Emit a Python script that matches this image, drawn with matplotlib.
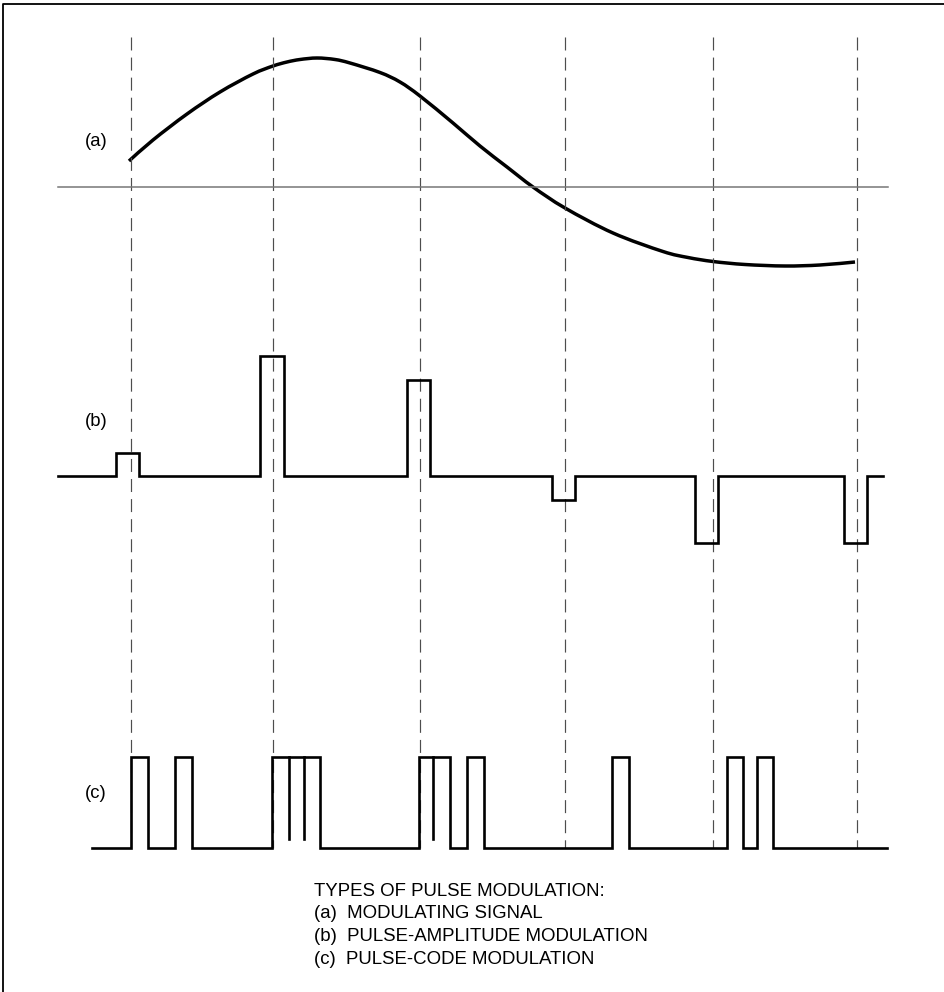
import matplotlib
matplotlib.use("Agg")
from matplotlib import pyplot as plt
from matplotlib.path import Path
from matplotlib.patches import PathPatch

plt.rcParams['font.family'] = ['Liberation Sans', 'DejaVu Sans']

# everything is in picture units (x to the right, y downwards)
sample_x = [131, 273, 420, 565, 713, 857]

# (a) modulating signal
curve_x = [129, 153, 187, 220, 253, 273, 287, 300, 317, 335, 350, 380, 400,
           420, 453, 480, 507, 533, 565, 613, 663, 688, 713, 745, 785, 820, 855]
curve_y = [161, 140, 114, 92, 74, 66, 62, 59.5, 58, 59.5, 63, 72.5, 82,
           96, 123, 146, 167, 187, 208, 233, 251.5, 257.5, 261.5, 264.5, 266,
           265, 262]
zero_level = 187

# (b) pulse-amplitude modulation: pulse edges and levels
pam_base = 476
pam_start = [116, 260, 407, 552, 695, 844]
pam_end = [139, 284, 430, 575, 718, 867]
pam_level = [453, 356, 380, 500, 543, 543]
pam_range = (58, 883)

# (c) pulse-code modulation: pulse edges and the dividers between joined bits
pcm_base = 848
pcm_top = 757
pcm_start = [131, 175, 272, 419, 467, 612, 727, 757]
pcm_end = [148, 192, 320, 450, 484, 629, 743, 773]
pcm_dividers = [289, 304, 433]
pcm_divider_end = 839
pcm_range = (92, 887)

legend_lines = ["TYPES OF PULSE MODULATION:",
                "(a)  MODULATING SIGNAL",
                "(b)  PULSE-AMPLITUDE MODULATION",
                "(c)  PULSE-CODE MODULATION"]


def pulse_train(starts, ends, levels, base, xrange_):
    xs, ys = [xrange_[0]], [base]
    for s, e, lv in zip(starts, ends, levels):
        xs += [s, s, e, e]
        ys += [base, lv, lv, base]
    xs.append(xrange_[1])
    ys.append(base)
    return xs, ys


def smooth_path(xs, ys):
    # catmull-rom through the read points, drawn as cubic beziers
    pts = list(zip(xs, ys))
    verts, codes = [pts[0]], [Path.MOVETO]
    for i in range(len(pts) - 1):
        p0 = pts[max(i - 1, 0)]
        p1, p2 = pts[i], pts[i + 1]
        p3 = pts[min(i + 2, len(pts) - 1)]
        c1 = (p1[0] + (p2[0] - p0[0]) / 6, p1[1] + (p2[1] - p0[1]) / 6)
        c2 = (p2[0] - (p3[0] - p1[0]) / 6, p2[1] - (p3[1] - p1[1]) / 6)
        verts += [c1, c2, p2]
        codes += [Path.CURVE4] * 3
    return Path(verts, codes)


fig = plt.figure(figsize=(9.45, 9.92), dpi=100)
ax = fig.add_axes([0, 0, 1, 1])
ax.set_xlim(0, 945)
ax.set_ylim(992, 0)
ax.axis("off")

# frame (only top and left survive in the reference)
ax.plot([3, 3, 945], [992, 4, 4], color="black", lw=1.3)

# dashed sampling instants
for x in sample_x:
    ax.plot([x, x], [37, pcm_base], color="#4d4d4d", lw=0.85,
            dashes=(11, 6))

# (a)
ax.plot([58, 888], [zero_level, zero_level], color="#777777", lw=1.1)
ax.add_patch(PathPatch(smooth_path(curve_x, curve_y), facecolor="none",
                       edgecolor="black", lw=2.5, capstyle="butt",
                       joinstyle="round"))

# (b)
xs, ys = pulse_train(pam_start, pam_end, pam_level, pam_base, pam_range)
ax.plot(xs, ys, color="black", lw=1.9, solid_joinstyle="miter")

# (c)
xs, ys = pulse_train(pcm_start, pcm_end, [pcm_top] * len(pcm_start),
                     pcm_base, pcm_range)
ax.plot(xs, ys, color="black", lw=1.9, solid_joinstyle="miter")
for x in pcm_dividers:
    ax.plot([x, x], [pcm_top, pcm_divider_end], color="black", lw=1.9)

# labels
for lab, y in zip(["(a)", "(b)", "(c)"], [142, 422, 793]):
    ax.text(85, y, lab, fontsize=13.3, ha="left", va="center")

for i, line in enumerate(legend_lines):
    ax.text(314, 891 + i * 22.7, line, fontsize=13.4, ha="left", va="center")

fig.savefig("out.png", dpi=100)
